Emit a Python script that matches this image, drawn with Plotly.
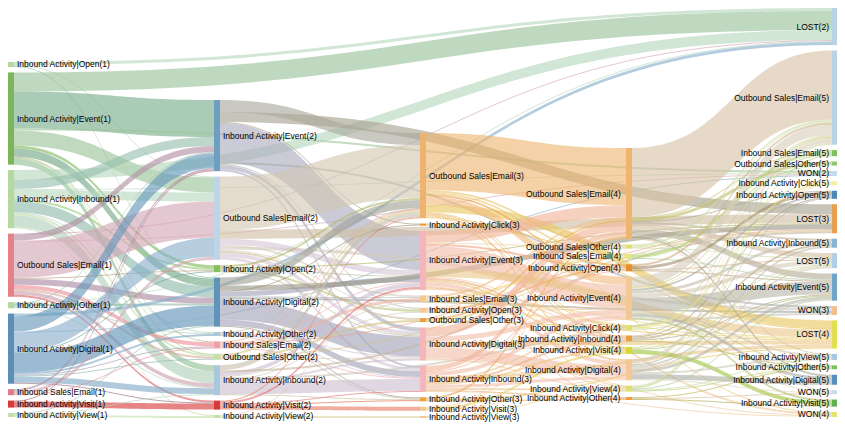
import plotly.graph_objects as go

# ---- nodes (key -> label), listed column by column, top to bottom ----
node_keys = [
    "Open1", "Event1", "Inbound1", "OSEmail1", "Other1", "Digital1", "ISEmail1", "Visit1", "View1",
    "Event2", "OSEmail2", "Open2", "Digital2", "Other2", "ISEmail2", "OSOther2", "Inbound2", "Visit2", "View2",
    "OSEmail3", "Click3", "Event3", "ISEmail3", "Open3", "OSOther3", "Digital3", "Inbound3", "Other3", "Visit3", "View3",
    "OSEmail4", "OSOther4", "ISEmail4", "Open4", "Event4", "Click4", "Inbound4", "Visit4", "Digital4", "View4", "Other4",
    "LOST2", "OSEmail5", "ISEmail5", "OSOther5", "WON2", "Click5", "Open5", "LOST3", "Inbound5", "LOST5",
    "Event5", "WON3", "LOST4", "View5", "Other5", "Digital5", "WON5", "Visit5", "WON4",
]
node_labels = [
    "Inbound Activity|Open(1)", "Inbound Activity|Event(1)", "Inbound Activity|Inbound(1)", "Outbound Sales|Email(1)",
    "Inbound Activity|Other(1)", "Inbound Activity|Digital(1)", "Inbound Sales|Email(1)", "Inbound Activity|Visit(1)",
    "Inbound Activity|View(1)",
    "Inbound Activity|Event(2)", "Outbound Sales|Email(2)", "Inbound Activity|Open(2)", "Inbound Activity|Digital(2)",
    "Inbound Activity|Other(2)", "Inbound Sales|Email(2)", "Outbound Sales|Other(2)", "Inbound Activity|Inbound(2)",
    "Inbound Activity|Visit(2)", "Inbound Activity|View(2)",
    "Outbound Sales|Email(3)", "Inbound Activity|Click(3)", "Inbound Activity|Event(3)", "Inbound Sales|Email(3)",
    "Inbound Activity|Open(3)", "Outbound Sales|Other(3)", "Inbound Activity|Digital(3)", "Inbound Activity|Inbound(3)",
    "Inbound Activity|Other(3)", "Inbound Activity|Visit(3)", "Inbound Activity|View(3)",
    "Outbound Sales|Email(4)", "Outbound Sales|Other(4)", "Inbound Sales|Email(4)", "Inbound Activity|Open(4)",
    "Inbound Activity|Event(4)", "Inbound Activity|Click(4)", "Inbound Activity|Inbound(4)", "Inbound Activity|Visit(4)",
    "Inbound Activity|Digital(4)", "Inbound Activity|View(4)", "Inbound Activity|Other(4)",
    "LOST(2)", "Outbound Sales|Email(5)", "Inbound Sales|Email(5)", "Outbound Sales|Other(5)", "WON(2)",
    "Inbound Activity|Click(5)", "Inbound Activity|Open(5)", "LOST(3)", "Inbound Activity|Inbound(5)", "LOST(5)",
    "Inbound Activity|Event(5)", "WON(3)", "LOST(4)", "Inbound Activity|View(5)", "Inbound Activity|Other(5)",
    "Inbound Activity|Digital(5)", "WON(5)", "Inbound Activity|Visit(5)", "WON(4)",
]
node_column = [0] * 9 + [1] * 10 + [2] * 11 + [3] * 11 + [4] * 19
node_colors = [
    "#b5d99c", "#7cb55a", "#b5d99c", "#e8808a", "#b5d99c", "#5b8fb5", "#e27b83", "#d83a3a", "#c5e0a8",
    "#6f9fc0", "#bcd6e8", "#86bf5e", "#5f93b8", "#aac8dd", "#f0a0a8", "#c5e0a8", "#aac8dd", "#d83a3a", "#c5e0a8",
    "#eeb36e", "#e8942a", "#f5b5bd", "#f3c894", "#f3c894", "#e8a040", "#f5b5bd", "#f5b5bd", "#e8a040", "#f3c894", "#f3c894",
    "#efb570", "#e0e070", "#e6e680", "#e89030", "#f3c894", "#e0e070", "#e8a040", "#d8d830", "#f3c894", "#e0e070", "#e8a040",
    "#b8d3e6", "#b8d3e6", "#7cc060", "#8cc870", "#c5dcec", "#f0f0a0", "#4a88b8", "#e8a050", "#88b4d4", "#b0cfe6",
    "#6fa3c8", "#f0c090", "#e0e050", "#a8c8e0", "#80c060", "#5590c0", "#c8dcee", "#60b050", "#e8e070",
]

# ---- links ----
link_sources = [
    # step 1
    "Open1", "Open1", "Open1",
    "Event1", "Event1", "Event1", "Event1", "Event1", "Event1", "Event1", "Event1", "Event1",
    "Inbound1", "Inbound1", "Inbound1", "Inbound1", "Inbound1", "Inbound1", "Inbound1", "Inbound1", "Inbound1", "Inbound1",
    "OSEmail1", "OSEmail1", "OSEmail1", "OSEmail1", "OSEmail1", "OSEmail1", "OSEmail1", "OSEmail1", "OSEmail1", "OSEmail1",
    "Other1", "Other1", "Other1", "Other1", "Other1",
    "Digital1", "Digital1", "Digital1", "Digital1", "Digital1", "Digital1", "Digital1", "Digital1", "Digital1", "Digital1", "Digital1",
    "ISEmail1", "ISEmail1", "ISEmail1",
    "Visit1", "Visit1",
    "View1", "View1", "View1",
    # step 2
    "Event2", "Event2", "Event2", "Event2", "Event2", "Event2", "Event2", "Event2",
    "OSEmail2", "OSEmail2", "OSEmail2", "OSEmail2", "OSEmail2", "OSEmail2", "OSEmail2", "OSEmail2", "OSEmail2",
    "Open2", "Open2", "Open2", "Open2", "Open2",
    "Digital2", "Digital2", "Digital2", "Digital2", "Digital2", "Digital2", "Digital2", "Digital2", "Digital2",
    "Other2", "Other2", "Other2", "Other2",
    "ISEmail2", "ISEmail2", "ISEmail2", "ISEmail2", "ISEmail2",
    "OSOther2", "OSOther2", "OSOther2", "OSOther2",
    "Inbound2", "Inbound2", "Inbound2", "Inbound2", "Inbound2", "Inbound2", "Inbound2", "Inbound2", "Inbound2",
    "Visit2", "Visit2", "Visit2", "Visit2", "Visit2",
    "View2", "View2",
    # step 3
    "OSEmail3", "OSEmail3", "OSEmail3", "OSEmail3", "OSEmail3", "OSEmail3", "OSEmail3", "OSEmail3", "OSEmail3", "OSEmail3", "OSEmail3",
    "Click3", "Click3",
    "Event3", "Event3", "Event3", "Event3", "Event3", "Event3", "Event3", "Event3", "Event3", "Event3", "Event3", "Event3",
    "ISEmail3", "ISEmail3", "ISEmail3", "ISEmail3",
    "Open3", "Open3", "Open3", "Open3",
    "OSOther3", "OSOther3", "OSOther3",
    "Digital3", "Digital3", "Digital3", "Digital3", "Digital3", "Digital3", "Digital3", "Digital3",
    "Inbound3", "Inbound3", "Inbound3", "Inbound3", "Inbound3", "Inbound3", "Inbound3", "Inbound3", "Inbound3", "Inbound3", "Inbound3",
    "Other3", "Other3", "Other3",
    "Visit3", "Visit3", "Visit3",
    "View3", "View3",
    # step 4
    "OSEmail4", "OSEmail4", "OSEmail4", "OSEmail4", "OSEmail4", "OSEmail4", "OSEmail4", "OSEmail4", "OSEmail4", "OSEmail4",
    "OSOther4", "OSOther4", "OSOther4",
    "ISEmail4", "ISEmail4", "ISEmail4",
    "Open4", "Open4", "Open4", "Open4",
    "Event4", "Event4", "Event4", "Event4", "Event4", "Event4", "Event4", "Event4", "Event4", "Event4", "Event4", "Event4",
    "Click4", "Click4", "Click4",
    "Inbound4", "Inbound4", "Inbound4", "Inbound4", "Inbound4",
    "Visit4", "Visit4", "Visit4", "Visit4",
    "Digital4", "Digital4", "Digital4", "Digital4", "Digital4", "Digital4", "Digital4", "Digital4", "Digital4",
    "View4", "View4", "View4", "View4", "View4",
    "Other4", "Other4", "Other4",
]
link_targets = [
    # step 1
    "LOST2", "Digital2", "OSEmail2",
    "LOST2", "Event2", "OSEmail2", "Open2", "Digital2", "Inbound2", "OSOther2", "WON2", "ISEmail2",
    "LOST2", "Event2", "OSEmail2", "Open2", "Digital2", "Inbound2", "OSOther2", "Other2", "View2", "WON2",
    "LOST2", "Event2", "OSEmail2", "Digital2", "ISEmail2", "Inbound2", "OSOther2", "Visit2", "WON2", "Open2",
    "LOST2", "Digital2", "Other2", "Inbound2", "Event2",
    "LOST2", "Event2", "OSEmail2", "Digital2", "Inbound2", "Other2", "ISEmail2", "WON2", "Open2", "OSOther2", "Visit2",
    "OSEmail2", "Event2", "ISEmail2",
    "Visit2", "Event2",
    "View2", "Digital2", "Inbound2",
    # step 2
    "LOST3", "OSEmail3", "Event3", "Digital3", "Inbound3", "Open3", "WON3", "Click3",
    "OSEmail3", "LOST3", "WON3", "Event3", "Digital3", "Inbound3", "ISEmail3", "OSOther3", "Open3",
    "OSEmail3", "Open3", "Event3", "LOST3", "Digital3",
    "OSEmail3", "Event3", "Digital3", "Inbound3", "LOST3", "WON3", "ISEmail3", "Other3", "Click3",
    "Other3", "Digital3", "Inbound3", "OSEmail3",
    "ISEmail3", "OSEmail3", "Event3", "LOST3", "Inbound3",
    "OSEmail3", "OSOther3", "LOST3", "Digital3",
    "OSEmail3", "Event3", "Digital3", "Inbound3", "LOST3", "WON3", "Open3", "ISEmail3", "Other3",
    "Visit3", "Event3", "OSEmail3", "Inbound3", "Other3",
    "View3", "Event3",
    # step 3
    "OSEmail4", "LOST4", "Event4", "OSOther4", "ISEmail4", "Open4", "Digital4", "WON4", "Inbound4", "Click4", "View4",
    "Click4", "LOST4",
    "OSEmail4", "Event4", "LOST4", "Digital4", "WON4", "Open4", "Inbound4", "Visit4", "Click4", "View4", "Other4", "OSOther4",
    "OSEmail4", "ISEmail4", "LOST4", "Event4",
    "Open4", "OSEmail4", "Event4", "LOST4",
    "OSOther4", "OSEmail4", "LOST4",
    "OSEmail4", "Event4", "Digital4", "LOST4", "Visit4", "Inbound4", "View4", "WON4",
    "OSEmail4", "Event4", "Inbound4", "Digital4", "LOST4", "Visit4", "Click4", "View4", "Other4", "WON4", "Open4",
    "Other4", "OSEmail4", "LOST4",
    "Visit4", "Event4", "Digital4",
    "View4", "OSEmail4",
    # step 4
    "OSEmail5", "LOST5", "Event5", "Inbound5", "ISEmail5", "OSOther5", "Digital5", "WON5", "Open5", "View5",
    "OSOther5", "OSEmail5", "LOST5",
    "ISEmail5", "OSEmail5", "Event5",
    "Open5", "OSEmail5", "LOST5", "Event5",
    "OSEmail5", "Event5", "LOST5", "Inbound5", "Digital5", "Open5", "Visit5", "View5", "Other5", "WON5", "Click5", "ISEmail5",
    "Click5", "OSEmail5", "LOST5",
    "Inbound5", "OSEmail5", "Event5", "Open5", "Other5",
    "Visit5", "OSEmail5", "Event5", "LOST5",
    "Digital5", "OSEmail5", "Event5", "LOST5", "Inbound5", "View5", "WON5", "Open5", "Click5",
    "View5", "OSEmail5", "Event5", "Other5", "ISEmail5",
    "Other5", "Visit5", "WON5",
]
link_values = [
    # step 1
    3, 1, 1,
    19, 37, 15, 3, 8, 6, 1, 2, 1,
    10, 9, 9, 2, 11, 12, 2, 1, 1, 1,
    1, 6, 36, 6, 4, 4, 2, 2, 1, 1,
    1, 2, 1, 1, 1,
    3, 15, 19, 20, 6, 2, 1, 1, 1, 1, 1,
    3, 2, 1,
    6, 1,
    2, 1, 1,
    # step 2
    10, 12, 39, 4, 2, 1, 2, 1,
    53, 9, 3, 6, 4, 3, 2, 2, 1,
    2, 2, 1, 1, 1,
    8, 5, 20, 6, 5, 2, 1, 1, 1,
    1, 1, 1, 1,
    3, 1, 1, 1, 1,
    2, 2, 1, 1,
    5, 4, 2, 12, 2, 2, 1, 1, 1,
    4, 2, 1, 1, 1,
    2, 1,
    # step 3
    57, 8, 8, 2, 2, 2, 2, 1, 1, 1, 1,
    1, 1,
    12, 23, 8, 4, 2, 2, 2, 2, 1, 1, 1, 1,
    2, 3, 1, 1,
    2, 1, 1, 1,
    1, 2, 1,
    9, 5, 11, 4, 1, 1, 1, 1,
    5, 4, 2, 3, 3, 2, 2, 2, 1, 1, 1,
    1, 2, 1,
    2, 1, 1,
    1, 1,
    # step 4
    69, 5, 6, 2, 1, 3, 2, 1, 1, 1,
    1, 2, 1,
    3, 1, 1,
    3, 2, 1, 1,
    10, 13, 4, 3, 3, 2, 2, 2, 1, 1, 1, 1,
    2, 2, 1,
    2, 1, 1, 1, 1,
    4, 1, 1, 1,
    5, 4, 3, 2, 2, 2, 1, 1, 1,
    1, 2, 1, 1, 1,
    1, 1, 1,
]

# ---- layout constants (figure pixels; the page shows the figure 8px in) ----
W, H = 837, 418
PAD = 5.9
THICK = 6
TEXTPAD = 3
COL_X = (3, 827)                          # centres of first / last column
COL_TOP = [54, 92, 125, 140, 0]           # where each column starts
COL_BOTTOM = [409, 410, 410, 392, 409]    # where each column ends
LEFT_LABEL_COLS = {3}                     # columns whose labels sit left of the node
FONT = dict(family="Liberation Sans, Arial", size=8.5, color="#000000")

idx = {k: i for i, k in enumerate(node_keys)}
src = [idx[s] for s in link_sources]
tgt = [idx[t] for t in link_targets]

# node value = max(in, out), as the library computes it
n = len(node_keys)
vin, vout = [0] * n, [0] * n
for s, t, v in zip(src, tgt, link_values):
    vout[s] += v
    vin[t] += v
node_val = [max(a, b) for a, b in zip(vin, vout)]

ncols = 5
col_nodes = [[i for i in range(n) if node_column[i] == c] for c in range(ncols)]
ky = min((H - (len(cn) - 1) * PAD) / sum(node_val[i] for i in cn) for cn in col_nodes)

node_x, node_y, node_xc = [0.0] * n, [0.0] * n, [0.0] * n
for c, cn in enumerate(col_nodes):
    tot = sum(node_val[i] for i in cn) * ky
    gap = (COL_BOTTOM[c] - COL_TOP[c] - tot) / (len(cn) - 1)
    y = COL_TOP[c]
    xc = COL_X[0] + c * (COL_X[1] - COL_X[0]) / (ncols - 1)
    for i in cn:
        h = node_val[i] * ky
        node_xc[i] = xc
        node_x[i] = xc / W
        node_y[i] = max(y + h / 2, 0.5) / H
        y += h + gap


def hex_rgb(h):
    h = h.lstrip("#")
    return tuple(int(h[i:i + 2], 16) for i in (0, 2, 4))


def blend(a, b, alpha):
    ra, rb = hex_rgb(a), hex_rgb(b)
    r, g, bl = [round(0.55 * x + 0.45 * y) for x, y in zip(ra, rb)]
    return f"rgba({r},{g},{bl},{alpha})"


link_colors = [blend(node_colors[s], node_colors[t], 0.62) for s, t in zip(src, tgt)]

# labels of the 4th column are drawn to the left of their nodes
sankey_labels = ["" if node_column[i] in LEFT_LABEL_COLS else node_labels[i] for i in range(n)]
annotations = [
    dict(
        x=(node_xc[i] - THICK / 2 - TEXTPAD) / W, y=1 - node_y[i],
        xref="paper", yref="paper", xanchor="right", yanchor="middle",
        text=node_labels[i], showarrow=False, font=FONT,
    )
    for i in range(n) if node_column[i] in LEFT_LABEL_COLS
]

fig = go.Figure(go.Sankey(
    arrangement="fixed",
    node=dict(
        label=sankey_labels,
        customdata=node_labels,
        hovertemplate="%{customdata}<extra></extra>",
        color=node_colors,
        x=node_x,
        y=node_y,
        pad=PAD,
        thickness=THICK,
        line=dict(width=0),
    ),
    link=dict(source=src, target=tgt, value=link_values, color=link_colors),
    textfont=dict(FONT, shadow="none"),
))
fig.update_layout(
    width=W, height=H,
    margin=dict(l=0, r=0, t=0, b=0),
    paper_bgcolor="white",
    annotations=annotations,
)
fig.write_html("out.html")
